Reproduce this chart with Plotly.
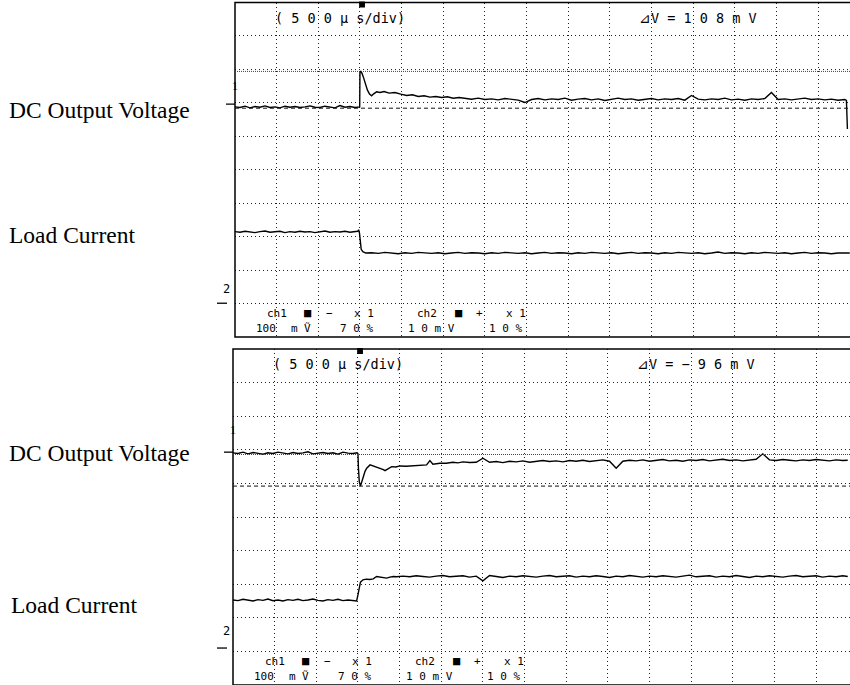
import plotly.graph_objects as go

# ---------------- data (time in µs, amplitude in screen divisions) ----------------
TIME_PER_DIV_US = 500
TRIGGER_US = 1500

PRE_T = [0, 60, 120, 180, 240, 300, 360, 420, 480, 540, 600, 660, 720, 780, 840,
         900, 960, 1020, 1080, 1140, 1200, 1260, 1320, 1380, 1440]
POST_T = [2760, 2840, 2920, 3000, 3080, 3160, 3240, 3320, 3400, 3480,
          3560, 3640, 3720, 3800, 3880, 3960, 4040, 4120, 4200, 4280,
          4360, 4440, 4520, 4600, 4680, 4760, 4840, 4920, 5000, 5080,
          5160, 5240, 5320, 5400, 5480, 5560, 5640, 5720, 5800, 5880,
          5960, 6040, 6120, 6200, 6280, 6360, 6440, 6520, 6600, 6680,
          6760, 6840, 6920, 7000, 7080, 7160, 7240, 7320]

# --- upper screen: DC output voltage (ch1) ---
TOP_CH1_PRE = [6.88, 6.86, 6.90, 6.85, 6.89, 6.87, 6.91, 6.86, 6.88, 6.85, 6.90, 6.87, 6.89,
               6.86, 6.88, 6.91, 6.87, 6.86, 6.90, 6.88, 6.85, 6.92, 6.87, 6.89, 6.86]
TOP_CH1_STEP_T = [1497, 1500, 1510, 1525, 1545, 1565, 1590, 1615, 1640, 1665,
                  1700, 1740, 1790, 1850, 1920, 1990, 2060, 2130, 2200, 2270,
                  2340, 2410, 2480, 2550, 2620, 2690]
TOP_CH1_STEP = [6.88, 7.93, 7.94, 7.88, 7.74, 7.55, 7.38, 7.26, 7.21, 7.27,
                7.33, 7.31, 7.34, 7.29, 7.31, 7.26, 7.22, 7.24, 7.19, 7.21,
                7.17, 7.19, 7.16, 7.18, 7.14, 7.16]
TOP_CH1_POST = [7.13, 7.11, 7.14, 7.10, 7.12, 7.09, 7.13, 7.11, 7.08, 7.01,
                7.10, 7.13, 7.09, 7.12, 7.10, 7.14, 7.08, 7.11, 7.13, 7.09,
                7.12, 7.07, 7.11, 7.14, 7.10, 7.12, 7.08, 7.11, 7.13, 7.09,
                7.12, 7.10, 7.13, 7.08, 7.22, 7.11, 7.09, 7.12, 7.10, 7.14,
                7.09, 7.11, 7.08, 7.12, 7.10, 7.13, 7.31, 7.10, 7.12, 7.09,
                7.11, 7.14, 7.10, 7.12, 7.09, 7.11, 7.08, 7.10]
TOP_CH1_END_T = [7340, 7352]
TOP_CH1_END = [7.07, 6.22]

# --- upper screen: load current (ch2) ---
TOP_CH2_PRE = [3.15, 3.13, 3.16, 3.14, 3.12, 3.15, 3.17, 3.13, 3.14, 3.16, 3.12, 3.15, 3.13,
               3.16, 3.14, 3.15, 3.12, 3.14, 3.17, 3.13, 3.15, 3.14, 3.16, 3.13, 3.15]
TOP_CH2_STEP_T = [1470, 1485, 1495, 1505, 1515, 1535, 1570, 1640, 1720, 1800, 1880,
                  1960, 2040, 2120, 2200, 2280, 2360, 2440, 2520, 2600, 2680]
TOP_CH2_STEP = [3.16, 3.19, 3.10, 2.85, 2.62, 2.55, 2.51, 2.52, 2.50, 2.53, 2.51,
                2.49, 2.52, 2.50, 2.53, 2.51, 2.50, 2.52, 2.49, 2.51, 2.53]
TOP_CH2_POST = [2.50, 2.52, 2.51, 2.49, 2.52, 2.50, 2.53, 2.51, 2.50, 2.52,
                2.49, 2.51, 2.53, 2.50, 2.52, 2.51, 2.49, 2.52, 2.50, 2.53,
                2.51, 2.50, 2.52, 2.49, 2.51, 2.53, 2.50, 2.52, 2.51, 2.49,
                2.52, 2.50, 2.53, 2.51, 2.50, 2.52, 2.49, 2.51, 2.54, 2.50,
                2.52, 2.51, 2.49, 2.52, 2.50, 2.53, 2.51, 2.50, 2.52, 2.49,
                2.51, 2.53, 2.50, 2.52, 2.51, 2.49, 2.51, 2.50]
TOP_CH2_END_T = [7380]
TOP_CH2_END = [2.51]

# --- lower screen: DC output voltage (ch1) ---
BOT_CH1_PRE = [6.91, 6.89, 6.93, 6.88, 6.92, 6.90, 6.87, 6.91, 6.89, 6.93, 6.90, 6.88, 6.92,
               6.89, 6.91, 6.94, 6.88, 6.90, 6.92, 6.89, 6.91, 6.87, 6.93, 6.90, 6.89]
BOT_CH1_STEP_T = [1490, 1500, 1506, 1516, 1530, 1545, 1565, 1585, 1605, 1645,
                  1685, 1725, 1765, 1805, 1825, 1865, 1905, 1955, 2005, 2080,
                  2160, 2240, 2324, 2364, 2400, 2484, 2560, 2640, 2700]
BOT_CH1_STEP = [6.91, 6.89, 6.45, 6.05, 5.92, 6.02, 6.20, 6.36, 6.45, 6.55,
                6.52, 6.48, 6.45, 6.41, 6.38, 6.45, 6.50, 6.49, 6.52, 6.51,
                6.53, 6.54, 6.55, 6.68, 6.57, 6.60, 6.60, 6.63, 6.61]
BOT_CH1_POST = [6.64, 6.62, 6.63, 6.75, 6.63, 6.65, 6.62, 6.66, 6.64, 6.67,
                6.63, 6.66, 6.68, 6.65, 6.67, 6.64, 6.68, 6.66, 6.69, 6.65,
                6.67, 6.70, 6.66, 6.45, 6.66, 6.69, 6.67, 6.70, 6.66, 6.68,
                6.71, 6.67, 6.69, 6.66, 6.70, 6.68, 6.71, 6.67, 6.69, 6.72,
                6.68, 6.70, 6.67, 6.69, 6.72, 6.88, 6.70, 6.68, 6.71, 6.69,
                6.67, 6.70, 6.68, 6.71, 6.69, 6.67, 6.70, 6.68]
BOT_CH1_END_T = [7380]
BOT_CH1_END = [6.69]

# --- lower screen: load current (ch2) ---
BOT_CH2_PRE = [2.53, 2.51, 2.55, 2.52, 2.50, 2.54, 2.52, 2.56, 2.51, 2.53, 2.50, 2.54, 2.52,
               2.55, 2.51, 2.53, 2.56, 2.52, 2.50, 2.54, 2.52, 2.55, 2.51, 2.53, 2.52]
BOT_CH2_STEP_T = [1470, 1484, 1500, 1515, 1530, 1560, 1600, 1640, 1684, 1724,
                  1764, 1804, 1844, 1884, 1924, 1964, 2040, 2120, 2200, 2280,
                  2360, 2440, 2520, 2600, 2680]
BOT_CH2_STEP = [2.52, 2.50, 2.68, 2.92, 3.06, 3.13, 3.15, 3.14, 3.16, 3.23,
                3.21, 3.19, 3.18, 3.21, 3.23, 3.22, 3.24, 3.22, 3.25, 3.23,
                3.21, 3.24, 3.26, 3.22, 3.23]
BOT_CH2_POST = [3.25, 3.21, 3.24, 3.10, 3.26, 3.23, 3.20, 3.24, 3.22, 3.25,
                3.23, 3.21, 3.24, 3.26, 3.22, 3.23, 3.25, 3.21, 3.24, 3.22,
                3.25, 3.23, 3.20, 3.24, 3.22, 3.26, 3.23, 3.21, 3.24, 3.22,
                3.25, 3.23, 3.21, 3.24, 3.27, 3.22, 3.23, 3.25, 3.21, 3.24,
                3.22, 3.26, 3.23, 3.20, 3.24, 3.22, 3.25, 3.23, 3.21, 3.24,
                3.26, 3.22, 3.23, 3.25, 3.21, 3.24, 3.22, 3.25]
BOT_CH2_END_T = [7380]
BOT_CH2_END = [3.23]

# cursor levels (div) and readouts
TOP_CURSORS = [7.94, 6.84]
BOT_CURSORS = [6.86, 5.92]
TOP_DV = "⊿V = 1 0 8 m V"
BOT_DV = "⊿V = − 9 6 m V"
TIMEBASE_TEXT = "( 5 0 0 µ s/div)"
ROW1_TOKENS = ["ch1", "■", "−", "x 1", "ch2", "■", "+", "x 1"]
ROW1_T = [504, 876, 1140, 1549, 2305, 2689, 2941, 3373]
ROW2_TOKENS = ["100", "m", "Ṽ", "7 0 %", "1 0 m V", "1 0 %"]
ROW2_T = [372, 720, 876, 1453, 2353, 3253]
LABELS = ["DC Output Voltage", "Load Current"]
# channel ground markers (div): [ch1 label, ch1 tick, ch2 label, ch2 tick]
TOP_MARKS = [7.49, 6.96, 1.43, 1.01]
BOT_MARKS = [7.59, 6.93, 1.61, 1.10]

# ---------------- layout geometry (pixels) ----------------
W, H = 850, 685
DIV_PX = 41.65
TOP_X0, BOT_X0 = 235, 233
TOP_Y0, TOP_Y1 = 2.5, 337      # top / bottom pixel rows of upper screen
BOT_Y0, BOT_Y1 = 349, 685
ROW1_Y, ROW2_Y = 0.71, 0.26    # readout rows (div)


def pyf(p):
    return 1 - p / H


MONO = "DejaVu Sans Mono"
SERIF = "Liberation Serif"

fig = go.Figure()


def add_trace(parts_t, parts_y, xa, ya):
    t = []
    y = []
    for a, b in zip(parts_t, parts_y):
        assert len(a) == len(b), (len(a), len(b))
        t += a
        y += b
    fig.add_trace(go.Scatter(x=t, y=y, mode="lines", xaxis=xa, yaxis=ya,
                             line=dict(color="black", width=1.4), showlegend=False,
                             hoverinfo="skip"))


add_trace([PRE_T, TOP_CH1_STEP_T, POST_T, TOP_CH1_END_T],
          [TOP_CH1_PRE, TOP_CH1_STEP, TOP_CH1_POST, TOP_CH1_END], "x", "y")
add_trace([PRE_T, TOP_CH2_STEP_T, POST_T, TOP_CH2_END_T],
          [TOP_CH2_PRE, TOP_CH2_STEP, TOP_CH2_POST, TOP_CH2_END], "x", "y")
add_trace([PRE_T, BOT_CH1_STEP_T, POST_T, BOT_CH1_END_T],
          [BOT_CH1_PRE, BOT_CH1_STEP, BOT_CH1_POST, BOT_CH1_END], "x2", "y2")
add_trace([PRE_T, BOT_CH2_STEP_T, POST_T, BOT_CH2_END_T],
          [BOT_CH2_PRE, BOT_CH2_STEP, BOT_CH2_POST, BOT_CH2_END], "x2", "y2")

grid = dict(showgrid=True, gridcolor="#222", gridwidth=1, griddash="1px,3px",
            zeroline=False, showticklabels=False, ticks="", showline=False,
            fixedrange=True)

fig.update_layout(
    width=W, height=H, margin=dict(l=0, r=0, t=0, b=0),
    paper_bgcolor="white", plot_bgcolor="white",
    xaxis=dict(domain=[TOP_X0 / W, 1], range=[0, (W - TOP_X0) / DIV_PX * TIME_PER_DIV_US],
               tick0=0, dtick=TIME_PER_DIV_US, anchor="y", **grid),
    yaxis=dict(domain=[pyf(TOP_Y1), pyf(TOP_Y0)], range=[0, 10], tick0=0, dtick=1,
               anchor="x", **grid),
    xaxis2=dict(domain=[BOT_X0 / W, 1], range=[0, (W - BOT_X0) / DIV_PX * TIME_PER_DIV_US],
                tick0=0, dtick=TIME_PER_DIV_US, anchor="y2", **grid),
    yaxis2=dict(domain=[pyf(BOT_Y1), pyf(BOT_Y0)], range=[0, 10], tick0=0, dtick=1,
                anchor="x2", **grid),
)

shapes = []
annotations = []


def panel(xr, ya, x0px, ytop, ybot, cursors, dv, marks, label_pos):
    # frame
    shapes.append(dict(type="rect", xref="paper", yref="paper", x0=x0px / W, x1=1.05,
                       y0=pyf(ybot), y1=pyf(ytop), line=dict(color="black", width=1.5),
                       layer="above"))
    # cursors
    shapes.append(dict(type="line", xref="paper", yref=ya, x0=x0px / W, x1=1,
                       y0=cursors[0], y1=cursors[0],
                       line=dict(color="#444", width=1, dash="1px,1px"), layer="above"))
    shapes.append(dict(type="line", xref="paper", yref=ya, x0=x0px / W, x1=1,
                       y0=cursors[1], y1=cursors[1],
                       line=dict(color="#111", width=1, dash="4px,3px"), layer="above"))
    # trigger marker
    shapes.append(dict(type="rect", xref=xr, yref="paper", x0=TRIGGER_US - 10,
                       x1=TRIGGER_US + 60, y0=pyf(ytop + 5), y1=pyf(ytop - 1),
                       fillcolor="black", line=dict(width=0), layer="above"))
    # channel ground markers
    shapes.append(dict(type="line", xref="paper", yref=ya, x0=(x0px - 9) / W, x1=x0px / W,
                       y0=marks[1], y1=marks[1], line=dict(color="black", width=1.3)))
    shapes.append(dict(type="line", xref="paper", yref=ya, x0=217 / W, x1=227 / W,
                       y0=marks[3], y1=marks[3], line=dict(color="black", width=1.3)))
    annotations.append(dict(text="1", xref="paper", yref=ya, x=(x0px - 5) / W, y=marks[0],
                            showarrow=False, font=dict(family=SERIF, size=12, color="black")))
    annotations.append(dict(text="2", xref="paper", yref=ya, x=221.5 / W, y=marks[2],
                            showarrow=False, font=dict(family=MONO, size=12, color="black")))
    # screen readouts
    annotations.append(dict(text=TIMEBASE_TEXT, xref=xr, yref=ya, x=456, y=9.55,
                            xanchor="left", showarrow=False,
                            font=dict(family=MONO, size=13.5, color="black")))
    annotations.append(dict(text=dv, xref=xr, yref=ya, x=4826, y=9.55,
                            xanchor="left", showarrow=False,
                            font=dict(family=MONO, size=13.5, color="black")))
    for tok, t in zip(ROW1_TOKENS, ROW1_T):
        annotations.append(dict(text=tok, xref=xr, yref=ya, x=t, y=ROW1_Y, showarrow=False,
                                borderpad=0,
                                font=dict(family=MONO, size=12 if tok == "■" else 11,
                                          color="black")))
    for tok, t in zip(ROW2_TOKENS, ROW2_T):
        annotations.append(dict(text=tok, xref=xr, yref=ya, x=t, y=ROW2_Y, showarrow=False,
                                borderpad=0,
                                font=dict(family=MONO, size=11, color="black")))
    # side labels
    for lab, (lx, ly) in zip(LABELS, label_pos):
        annotations.append(dict(text=lab, xref="paper", yref="paper", x=lx / W, y=pyf(ly),
                                xanchor="left", yanchor="middle", showarrow=False,
                                font=dict(family=SERIF, size=23.5, color="black")))


panel("x", "y", TOP_X0, TOP_Y0, TOP_Y1, TOP_CURSORS, TOP_DV, TOP_MARKS,
      [(7, 110), (7, 235)])
panel("x2", "y2", BOT_X0, BOT_Y0, BOT_Y1, BOT_CURSORS, BOT_DV, BOT_MARKS,
      [(7, 453), (9, 605)])

fig.update_layout(shapes=shapes, annotations=annotations)
fig.write_html("out.html")
